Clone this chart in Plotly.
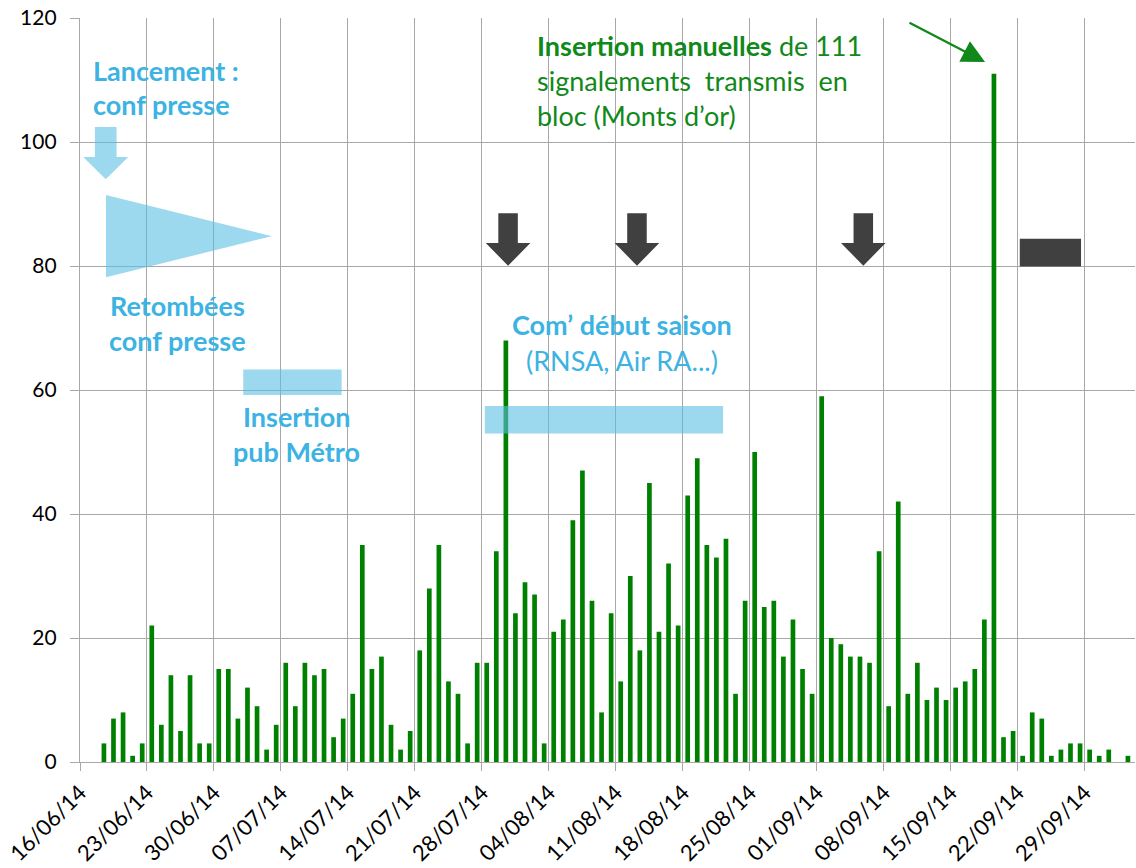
import pandas as pd
import plotly.graph_objects as go

# ---------------- data ----------------
start_date = "2014-06-18"
end_date = "2014-10-03"
june = [3, 7, 8, 1, 3, 22, 6, 14, 5, 14, 3, 3, 15]
july = [15, 7, 12, 9, 2, 6, 16, 9, 16, 14, 15, 4, 7, 11, 35, 15, 17, 6, 2, 5,
        18, 28, 35, 13, 11, 3, 16, 16, 34, 68, 24]
august = [29, 27, 3, 21, 23, 39, 47, 26, 8, 24, 13, 30, 18, 45, 21, 32, 22, 43,
          49, 35, 33, 36, 11, 26, 50, 25, 26, 17, 23, 15, 11]
september = [59, 20, 19, 17, 17, 16, 34, 9, 42, 11, 16, 10, 12, 10, 12, 13, 15,
             23, 111, 4, 5, 1, 8, 7, 1, 2, 3, 3, 2, 1]
october = [2, 0, 1]
values = june + july + august + september + october

axis_start = "2014-06-16"
tick_labels = ["16/06/14", "23/06/14", "30/06/14", "07/07/14", "14/07/14",
               "21/07/14", "28/07/14", "04/08/14", "11/08/14", "18/08/14",
               "25/08/14", "01/09/14", "08/09/14", "15/09/14", "22/09/14",
               "29/09/14"]
y_ticks = [0, 20, 40, 60, 80, 100, 120]

dates = pd.date_range(start_date, end_date, freq="D")
origin = pd.Timestamp(axis_start)
x_days = [(d - origin).days + 0.5 for d in dates]
tick_pos = [(pd.to_datetime(t, format="%d/%m/%y") - origin).days for t in tick_labels]

# ---------------- styles ----------------
GREEN = "#008000"
TXT_GREEN = "#10891a"
BLUE_TXT = "#3cb3e2"
BLUE_FILL = "rgba(92,192,227,0.6)"
DARK = "#404040"
GRID = "#a8a8a8"
FONT = "Lato, Carlito, Calibri, sans-serif"

fig = go.Figure()
fig.add_trace(go.Bar(x=x_days, y=values, width=0.49,
                     marker=dict(color=GREEN, line=dict(width=0)),
                     hoverinfo="skip"))


def down_arrow(cx, hh, hs, top, neck, tip):
    return (f"M {cx-hs} {top} L {cx+hs} {top} L {cx+hs} {neck} L {cx+hh} {neck} "
            f"L {cx} {tip} L {cx-hh} {neck} L {cx-hs} {neck} Z")


shapes = []
# light blue launch arrow
shapes.append(dict(type="path", xref="x", yref="y", layer="above",
                   path=down_arrow(2.69, 2.35, 1.13, 102.4, 97.6, 94.0),
                   fillcolor=BLUE_FILL, line=dict(width=0)))
# triangle (retombées)
shapes.append(dict(type="path", xref="x", yref="y", layer="above",
                   path="M 2.72 91.45 L 20.03 84.8 L 2.72 78.2 Z",
                   fillcolor=BLUE_FILL, line=dict(width=0)))
# insertion pub Métro
shapes.append(dict(type="rect", xref="x", yref="y", layer="above",
                   x0=17.06, x1=27.34, y0=59.2, y1=63.3,
                   fillcolor=BLUE_FILL, line=dict(width=0)))
# com début saison
shapes.append(dict(type="rect", xref="x", yref="y", layer="above",
                   x0=42.3, x1=67.2, y0=53.0, y1=57.4,
                   fillcolor=BLUE_FILL, line=dict(width=0)))
# dark arrows
for cx in (44.73, 58.2, 81.85):
    shapes.append(dict(type="path", xref="x", yref="y", layer="above",
                       path=down_arrow(cx, 2.33, 1.02, 88.5, 83.7, 80.05),
                       fillcolor=DARK, line=dict(width=0)))
shapes.append(dict(type="rect", xref="x", yref="y", layer="above",
                   x0=98.2, x1=104.6, y0=79.9, y1=84.4,
                   fillcolor=DARK, line=dict(width=0)))

annotations = []


def txt(text, x, y, color, anchor="center", size=27):
    annotations.append(dict(text=text, x=x, y=y, xref="x", yref="y",
                            xanchor=anchor, yanchor="middle", showarrow=False,
                            font=dict(family=FONT, size=size, color=color)))


txt("<b>Lancement :</b>", 1.2, 111.6, BLUE_TXT, "left")
txt("<b>conf presse</b>", 1.2, 106.0, BLUE_TXT, "left")
txt("<b>Retombées</b>", 10.14, 73.7, BLUE_TXT)
txt("<b>conf presse</b>", 10.14, 68.06, BLUE_TXT)
txt("<b>Insertion</b>", 22.67, 55.7, BLUE_TXT)
txt("<b>pub Métro</b>", 22.67, 50.05, BLUE_TXT)
txt("<b>Com’ début saison</b>", 56.64, 70.5, BLUE_TXT)
txt("(RNSA, Air RA...)", 56.64, 64.7, BLUE_TXT)
txt("<b>Insertion manuelles</b> de 111", 47.55, 115.5, TXT_GREEN, "left")
txt("signalements  transmis  en", 47.55, 109.85, TXT_GREEN, "left")
txt("bloc (Monts d’or)", 47.55, 104.2, TXT_GREEN, "left")

annotations.append(dict(text="", x=94.57, y=112.9, ax=86.52, ay=119.35,
                        xref="x", yref="y", axref="x", ayref="y",
                        showarrow=True, arrowhead=2, arrowsize=2.0,
                        arrowwidth=2.3, arrowcolor=TXT_GREEN, standoff=0))

fig.update_layout(
    width=1136, height=868,
    margin=dict(l=80, r=1, t=18, b=106, autoexpand=False),
    paper_bgcolor="white", plot_bgcolor="white",
    showlegend=False,
    shapes=shapes, annotations=annotations,
    font=dict(family=FONT, color="#000000"),
    xaxis=dict(range=[0, 110.24], tickmode="array", tickvals=tick_pos,
               ticktext=tick_labels, tickangle=-45, automargin=False,
               tickfont=dict(family=FONT, size=22, color="#000000"),
               showgrid=True, gridcolor=GRID, gridwidth=1.3,
               showline=True, linecolor=GRID, linewidth=1.3,
               ticks="outside", ticklen=8, tickcolor=GRID, tickwidth=1.3,
               zeroline=False, fixedrange=True),
    yaxis=dict(range=[0, 120], tickmode="array", tickvals=y_ticks,
               automargin=False,
               tickfont=dict(family=FONT, size=21, color="#000000"),
               showgrid=True, gridcolor=GRID, gridwidth=1.3,
               showline=True, linecolor=GRID, linewidth=1.3,
               ticks="outside", ticklen=9, tickcolor=GRID, tickwidth=1.3,
               ticklabelstandoff=9,
               zeroline=False, fixedrange=True),
)

fig.write_html("out.html", config={"displayModeBar": False},
               post_script="document.body.style.margin='0px';"
                           "document.body.style.overflow='hidden';")
